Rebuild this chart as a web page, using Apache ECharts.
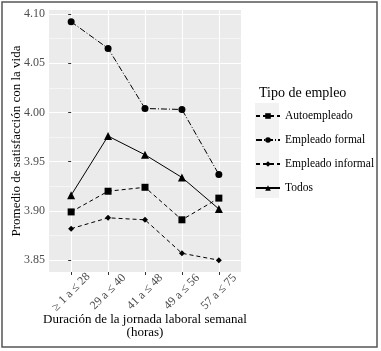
<!DOCTYPE html>
<html>
<head>
<meta charset="utf-8">
<script src="https://cdn.jsdelivr.net/npm/echarts@6/dist/echarts.min.js"></script>
<style>
  html, body { margin: 0; padding: 0; background: #fff; }
  #chart { width: 381px; height: 351px; }
</style>
</head>
<body>
<div id="chart"></div>
<script>
// datos
const categories = ['≥ 1 a ≤ 28', '29 a ≤ 40', '41 a ≤ 48', '49 a ≤ 56', '57 a ≤ 75'];
const autoempleado = [3.899, 3.920, 3.924, 3.891, 3.913];
const empleadoFormal = [4.092, 4.065, 4.004, 4.003, 3.937];
const empleadoInformal = [3.882, 3.893, 3.891, 3.857, 3.850];
const todos = [3.916, 3.976, 3.957, 3.934, 3.902];
const yTicks = [3.85, 3.90, 3.95, 4.00, 4.05, 4.10];
const yMinor = [3.875, 3.925, 3.975, 4.025, 4.075];
const xTicks = [0, 1, 2, 3, 4];

const FONT = 'Liberation Serif';
const chart = echarts.init(document.getElementById('chart'));

function pts(arr) {
    return arr.map((v, i) => [i, v]);
}

function mkSeries(name, arr, symbol, size, dash) {
    return {
        name: name,
        type: 'line',
        data: pts(arr),
        symbol: symbol,
        symbolSize: size,
        itemStyle: { color: '#000' },
        lineStyle: { color: '#000', width: 1, type: dash },
        z: 5
    };
}

const option = {
    animation: false,
    backgroundColor: '#fff',
    title: {
        text: 'Tipo de empleo',
        left: 254,
        top: 81,
        textStyle: { fontFamily: FONT, fontSize: 14, fontWeight: 'normal', color: '#000' }
    },
    graphic: [
        {
            type: 'rect',
            shape: { x: 2, y: 2, width: 375, height: 345 },
            style: { fill: 'none', stroke: '#555', lineWidth: 1.5 },
            z: 100
        },
        {
            type: 'rect',
            shape: { x: 255, y: 103, width: 24, height: 95 },
            style: { fill: '#f2f2f2' },
            z: 0
        }
    ],
    legend: {
        orient: 'vertical',
        left: 255,
        top: 110,
        itemWidth: 24,
        itemHeight: 7,
        itemGap: 12,
        padding: 0,
        textStyle: { fontFamily: FONT, fontSize: 11.5, color: '#000' },
        data: ['Autoempleado', 'Empleado formal', 'Empleado informal', 'Todos']
    },
    grid: {
        left: 49, right: 140, top: 10, bottom: 79,
        outerBoundsMode: 'none',
        show: true, backgroundColor: '#ebebeb', borderWidth: 0
    },
    xAxis: {
        type: 'value',
        min: -0.6,
        max: 4.6,
        name: 'Duración de la jornada laboral semanal\n(horas)',
        nameLocation: 'middle',
        nameGap: 41,
        nameMoveOverlap: false,
        nameTextStyle: { fontFamily: FONT, fontSize: 13, color: '#000', lineHeight: 13 },
        axisLine: { show: false },
        axisTick: { show: true, length: 3, customValues: xTicks, lineStyle: { color: '#333' } },
        axisLabel: {
            customValues: xTicks,
            formatter: v => categories[v],
            rotate: 45,
            align: 'center',
            verticalAlign: 'middle',
            margin: 20,
            fontFamily: FONT,
            fontSize: 12,
            color: '#4d4d4d'
        },
        splitLine: { show: true, lineStyle: { color: '#fff', width: 1.1 } }
    },
    yAxis: [
        {
            type: 'value',
            min: 3.838,
            max: 4.104,
            name: 'Promedio de satisfacción con la vida',
            nameLocation: 'middle',
            nameGap: 26,
            nameMoveOverlap: false,
            nameTextStyle: { fontFamily: FONT, fontSize: 13, color: '#000' },
            axisLine: { show: false },
            axisTick: { show: true, length: 3, customValues: yTicks, lineStyle: { color: '#333' } },
            axisLabel: {
                customValues: yTicks,
                formatter: v => v.toFixed(2),
                margin: 4,
                fontFamily: FONT,
                fontSize: 12,
                color: '#4d4d4d'
            },
            splitLine: { show: true, lineStyle: { color: '#fff', width: 1.1 } }
        },
        {
            type: 'value',
            position: 'left',
            min: 3.838,
            max: 4.104,
            axisLine: { show: false },
            axisTick: { show: false, customValues: yMinor },
            axisLabel: { show: false, customValues: yMinor },
            splitLine: { show: true, lineStyle: { color: '#fff', width: 0.5 } }
        }
    ],
    series: [
        mkSeries('Autoempleado', autoempleado, 'rect', 7, [4, 3]),
        mkSeries('Empleado formal', empleadoFormal, 'circle', 7, [6, 2, 1, 2]),
        mkSeries('Empleado informal', empleadoInformal, 'diamond', 6, [4, 3]),
        mkSeries('Todos', todos, 'triangle', 8, 'solid')
    ]
};

chart.setOption(option);
window.addEventListener('resize', function () {
    chart.resize();
});
</script>
</body>
</html>
